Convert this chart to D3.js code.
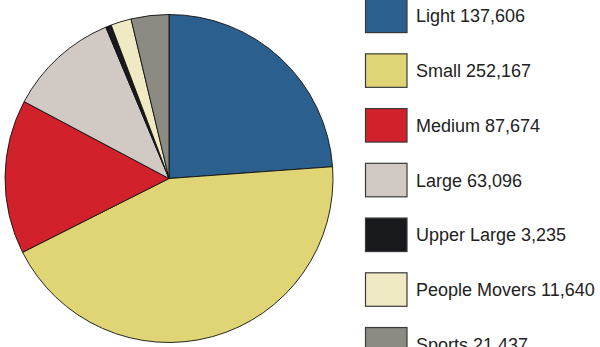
<!DOCTYPE html>
<html>
<head>
<meta charset="utf-8">
<script src="https://cdn.jsdelivr.net/npm/d3@7"></script>
<style>
  html, body { margin: 0; padding: 0; background: #fff; overflow: hidden; }
  svg { display: block; }
  text { font-family: "Liberation Sans", Arial, Helvetica, sans-serif; }
</style>
</head>
<body>
<svg id="chart" width="600" height="347"></svg>
<script>
// Vehicle segments and their counts
const categories = ["Light", "Small", "Medium", "Large", "Upper Large", "People Movers", "Sports"];
const values = [137606, 252167, 87674, 63096, 3235, 11640, 21437];
const colors = ["#2b608e", "#dfd575", "#d1222b", "#d0c9c4", "#18191c", "#efe9c4", "#8c8b83"];

const width = 600, height = 347;
const svg = d3.select("#chart");

const data = categories.map((c, i) => ({ name: c, value: values[i], color: colors[i] }));

// Pie: starts at 12 o'clock, clockwise, in data order
const pie = d3.pie().sort(null).value(d => d.value);
const radius = 164;
const arc = d3.arc().innerRadius(0).outerRadius(radius);

const g = svg.append("g").attr("transform", "translate(169,178.5)");
g.selectAll("path")
  .data(pie(data))
  .join("path")
  .attr("d", arc)
  .attr("fill", d => d.data.color)
  .attr("stroke", "#111")
  .attr("stroke-width", 0.9)
  .attr("stroke-linejoin", "round");

// Legend
const fmt = d3.format(",");
const legendY = d3.scaleLinear().domain([0, 1]).range([-1.4, 53.34]);
const legend = svg.append("g");
const rows = legend.selectAll("g")
  .data(data)
  .join("g")
  .attr("transform", (d, i) => `translate(365,${legendY(i)})`);

rows.append("rect")
  .attr("x", 0.5)
  .attr("y", 0.5)
  .attr("width", 41.5)
  .attr("height", 33.5)
  .attr("fill", d => d.color)
  .attr("stroke", "#3a3a3a")
  .attr("stroke-width", 1.2);

rows.append("text")
  .attr("x", 51)
  .attr("y", 23.8)
  .attr("font-size", 18)
  .attr("fill", "#222")
  .text(d => `${d.name} ${fmt(d.value)}`);
</script>
</body>
</html>
